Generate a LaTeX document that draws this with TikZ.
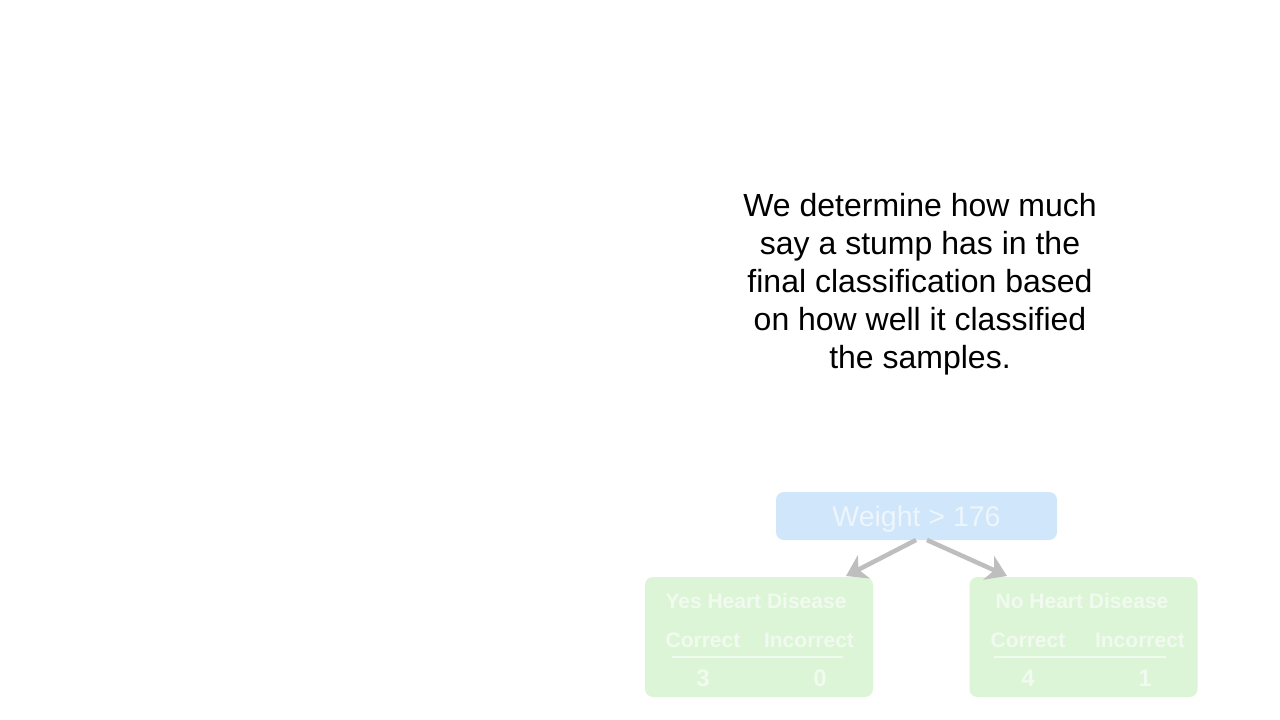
\documentclass[tikz,border=0pt]{standalone}
\usepackage{fontspec}
\setmainfont{Liberation Sans}
\usetikzlibrary{arrows.meta}
\definecolor{bluebox}{HTML}{D0E6FA}
\definecolor{bluetext}{HTML}{EDF5FD}
\definecolor{greenbox}{HTML}{DDF5D7}
\definecolor{greentext}{HTML}{F1FAEF}
\definecolor{arrowgray}{HTML}{BEBEBE}
\tikzset{
  rootbox/.style={fill=bluebox, rounded corners=8pt, minimum width=281pt, minimum height=48pt, inner sep=0pt},
  leafbox/.style={fill=greenbox, rounded corners=8pt, minimum width=228pt, minimum height=120pt, inner sep=0pt},
  roottext/.style={text=bluetext, font=\fontsize{28.5}{32}\selectfont},
  leaftext/.style={text=greentext, font=\bfseries\fontsize{21}{25}\selectfont},
  numtext/.style={text=greentext, font=\bfseries\fontsize{24}{28}\selectfont},
  conn/.style={draw=arrowgray, line width=4.5pt, -{Stealth[length=20pt,width=26pt,inset=6pt]}},
  sepline/.style={draw=greentext, line width=2.5pt},
  maintext/.style={align=center, font=\fontsize{32}{38}\selectfont, text=black}
}
\begin{document}
\begin{tikzpicture}[x=1pt,y=-1pt]
\useasboundingbox (0,0) rectangle (1280,720);
\fill[white] (0,0) rectangle (1280,720);
\node[maintext] (txt) at (920,284) {We determine how much\\say a stump has in the\\final classification based\\on how well it classified\\the samples.};
\node[rootbox] (root) at (916.5,516) {};
\node[roottext] (rootlbl) at (916.5,519) {Weight > 176};
\node[leafbox] (left) at (759,637) {};
\node[leafbox] (right) at (1083.5,637) {};
\node[leaftext] (lh) at (756,601) {Yes Heart Disease};
\node[leaftext] (lc) at (703,640) {Correct};
\node[leaftext] (li) at (809,640) {Incorrect};
\node[numtext] (ln3) at (703,678) {3};
\node[numtext] (ln0) at (820,678) {0};
\coordinate (l1) at (672,657);
\coordinate (l2) at (843,657);
\draw[sepline] (l1) -- (l2);
\node[leaftext] (rh) at (1082,601) {No Heart Disease};
\node[leaftext] (rc) at (1028,640) {Correct};
\node[leaftext] (ri) at (1140,640) {Incorrect};
\node[numtext] (rn4) at (1028,678) {4};
\node[numtext] (rn1) at (1145,678) {1};
\coordinate (r1) at (994,657);
\coordinate (r2) at (1166,657);
\draw[sepline] (r1) -- (r2);
\coordinate (sl) at (916,540);
\coordinate (sr) at (927,540);
\coordinate (tl) at (846,576);
\coordinate (tr) at (1007,576);
\draw[conn] (sl) -- (tl);
\draw[conn] (sr) -- (tr);
\end{tikzpicture}
\end{document}
